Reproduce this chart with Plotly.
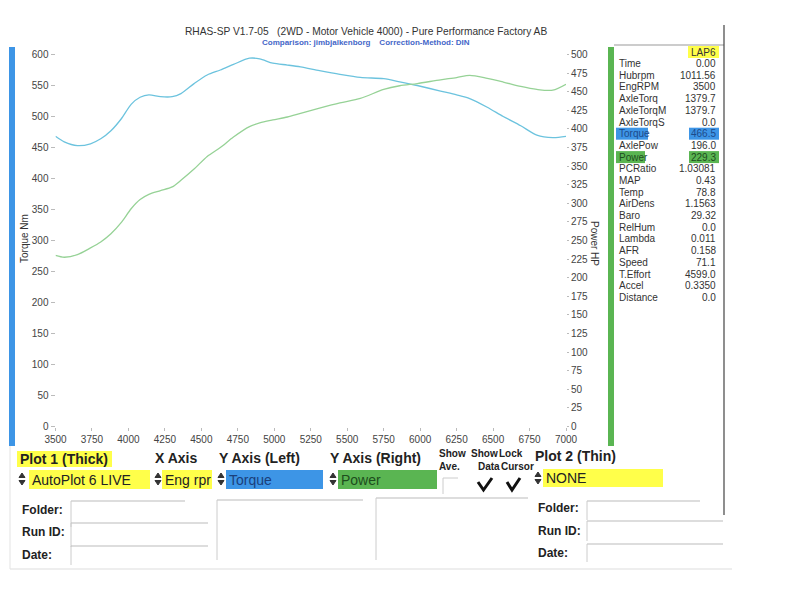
import plotly.graph_objects as go

# ---------------- data ----------------
rpm = [3500, 3560, 3650, 3740, 3810, 3880, 3950, 4020, 4080, 4140,
       4220, 4300, 4360, 4450, 4540, 4630, 4720, 4830, 4900, 4990,
       5090, 5180, 5310, 5450, 5590, 5750, 5860, 5980, 6140, 6250,
       6340, 6460, 6570, 6690, 6800, 6910, 7000]
torque_nm = [468, 459, 453, 456, 464, 477, 496, 520, 531, 535,
             532, 532, 537, 553, 567, 575, 584, 594, 593, 586,
             583, 580, 574, 568, 563, 561, 556, 550, 541, 535,
             529, 515, 500, 485, 470, 466, 468]
power_hp = [230, 227.5, 231, 240, 248, 259, 274, 293, 305, 312,
            317, 322, 331, 346, 363, 375, 389, 403, 408, 412,
            416, 421, 428, 435, 441, 453, 458, 461, 466, 469,
            472, 468, 463, 457, 453, 452, 460]

x_ticks = [3500, 3750, 4000, 4250, 4500, 4750, 5000, 5250, 5500, 5750, 6000, 6250, 6500, 6750, 7000]
left_ticks = list(range(0, 601, 50))
right_ticks = list(range(0, 501, 25))

title_text = "RHAS-SP V1.7-05\u00a0\u00a0\u00a0(2WD - Motor Vehicle 4000) - Pure Performance Factory AB"
subtitle_text = "Comparison: jimbjalkenborg\u00a0\u00a0\u00a0\u00a0Correction-Method: DIN"

panel_header = "LAP6"
panel_labels = ["Time", "Hubrpm", "EngRPM", "AxleTorq", "AxleTorqM", "AxleTorqS", "Torque",
                "AxlePow", "Power", "PCRatio", "MAP", "Temp", "AirDens", "Baro", "RelHum",
                "Lambda", "AFR", "Speed", "T.Effort", "Accel", "Distance"]
panel_values = ["0.00", "1011.56", "3500", "1379.7", "1379.7", "0.0", "466.5",
                "196.0", "229.3", "1.03081", "0.43", "78.8", "1.1563", "29.32", "0.0",
                "0.011", "0.158", "71.1", "4599.0", "0.3350", "0.0"]

# ---------------- helpers ----------------
W, H = 799, 591
FONT = "Liberation Sans, Arial, sans-serif"
BLUE = "#3d95e6"
GREEN = "#5ab552"
YELLOW = "#ffff4a"


def X(px):
    return px / W


def Y(py):
    return 1 - py / H


annotations = []
shapes = []


def txt(x, y, s, size=10, color="#333", xanchor="left", yanchor="middle", **kw):
    annotations.append(dict(x=X(x), y=Y(y), xref="paper", yref="paper", text=s,
                            showarrow=False, xanchor=xanchor, yanchor=yanchor,
                            font=dict(family=FONT, size=size, color=color), **kw))


def rect(x0, y0, x1, y1, fill):
    shapes.append(dict(type="rect", xref="paper", yref="paper", x0=X(x0), x1=X(x1),
                       y0=Y(y1), y1=Y(y0), fillcolor=fill, line=dict(width=0),
                       layer="below"))


def hline(x0, x1, y, color="#bbb", width=1):
    shapes.append(dict(type="line", xref="paper", yref="paper", x0=X(x0), x1=X(x1),
                       y0=Y(y), y1=Y(y), line=dict(color=color, width=width)))


def vline(x, y0, y1, color="#bbb", width=1):
    shapes.append(dict(type="line", xref="paper", yref="paper", x0=X(x), x1=X(x),
                       y0=Y(y0), y1=Y(y1), line=dict(color=color, width=width)))


def path(points, color="#111", width=2.5, fill=None):
    d = "M " + " L ".join(f"{X(px):.5f},{Y(py):.5f}" for px, py in points)
    if fill:
        d += " Z"
    shapes.append(dict(type="path", xref="paper", yref="paper", path=d,
                       line=dict(color=color, width=width),
                       fillcolor=fill if fill else "rgba(0,0,0,0)"))


def spinner(x, yc):
    path([(x, yc - 1.5), (x + 3, yc - 6), (x + 6, yc - 1.5)], color="#333", width=1, fill="#333")
    path([(x, yc + 1.5), (x + 3, yc + 6), (x + 6, yc + 1.5)], color="#333", width=1, fill="#333")


# ---------------- figure ----------------
fig = go.Figure()
fig.add_trace(go.Scatter(x=rpm, y=torque_nm, mode="lines", yaxis="y",
                         line=dict(color="#6cc3de", width=1.3, shape="spline", smoothing=0.8),
                         hoverinfo="skip", showlegend=False))
fig.add_trace(go.Scatter(x=rpm, y=power_hp, mode="lines", yaxis="y2",
                         line=dict(color="#96d296", width=1.3, shape="spline", smoothing=0.8),
                         hoverinfo="skip", showlegend=False))

x_dom = [X(55.5), X(566)]
y_dom = [Y(426.5), Y(54.5)]

# titles
txt(366, 32, title_text, size=10.2, color="#333", xanchor="center")
txt(366, 43, "<b>" + subtitle_text + "</b>", size=8, color="#4466c8", xanchor="center")

# side bars
rect(9, 47, 15, 446, BLUE)
rect(608, 47, 614, 446, GREEN)

# axis titles
txt(25, 239, "Torque Nm", size=10, color="#333", xanchor="center", textangle=-90)
txt(595, 243, "Power HP", size=10, color="#333", xanchor="center", textangle=90)

# data panel
hline(614, 724, 45, color="#999")
vline(724, 25, 515, color="#444", width=1.2)
rect(688, 46, 719, 58, YELLOW)
txt(718, 52, panel_header, size=10, color="#333", xanchor="right")
for i, (lab, val) in enumerate(zip(panel_labels, panel_values)):
    yc = 63.5 + i * 11.7
    lab_color = "#333"
    val_color = "#333"
    if lab == "Torque":
        rect(616, yc - 6, 648, yc + 6, BLUE)
        rect(689, yc - 6, 719, yc + 6, BLUE)
        lab_color = val_color = "#1d4a8a"
    if lab == "Power":
        rect(616, yc - 6, 645, yc + 6, GREEN)
        rect(689, yc - 6, 719, yc + 6, GREEN)
        lab_color = val_color = "#1e4d1e"
    txt(617, yc, lab, size=10, color=lab_color)
    txt(718, yc, val, size=10, color=val_color, xanchor="right")

# control headers
rect(17, 451, 112, 467, YELLOW)
txt(18, 459, "<b>Plot 1 (Thick)</b>", size=14, color="#222")
txt(153, 458, "<b>X Axis</b>", size=14, color="#222")
txt(217, 458, "<b>Y Axis (Left)</b>", size=14, color="#222")
txt(328, 458, "<b>Y Axis (Right)</b>", size=14, color="#222")
txt(533, 456, "<b>Plot 2 (Thin)</b>", size=14, color="#222")
txt(437, 453, "<b>Show</b>", size=10, color="#222")
txt(437, 466, "<b>Ave.</b>", size=10, color="#222")
txt(469, 453, "<b>Show</b>", size=10, color="#222")
txt(476, 466, "<b>Data</b>", size=10, color="#222")
txt(497, 453, "<b>Lock</b>", size=10, color="#222")
txt(499, 466, "<b>Cursor</b>", size=10, color="#222")

# control selectors
spinner(19, 479)
rect(29, 470, 150, 489, YELLOW)
txt(30, 479.5, "AutoPlot 6 LIVE", size=14, color="#222")
spinner(155, 479)
rect(162, 470, 212, 489, YELLOW)
txt(163, 479.5, "Eng rpr", size=14, color="#222")
spinner(218, 479)
rect(226, 470, 323, 489, BLUE)
txt(227, 479.5, "Torque", size=14, color="#1b3f7a")
spinner(330, 479)
rect(338, 470, 437, 489, GREEN)
txt(339, 479.5, "Power", size=14, color="#1d4d1d")
spinner(535, 478)
rect(543, 469, 663, 487, YELLOW)
txt(544, 478, "NONE", size=14, color="#222")

# check boxes
vline(443, 478, 494, color="#ccc")
hline(443, 458, 478, color="#ccc")
path([(478, 482), (483.5, 490), (492, 478)], color="#111", width=3)
path([(507, 482), (512, 490), (520, 478)], color="#111", width=3)

# form fields
for lab, yc in [("Folder:", 510), ("Run ID:", 532), ("Date:", 555)]:
    txt(20, yc, "<b>" + lab + "</b>", size=12, color="#222")
for lab, yc in [("Folder:", 508), ("Run ID:", 531), ("Date:", 553)]:
    txt(536, yc, "<b>" + lab + "</b>", size=12, color="#222")
for (x0, x1, yt, yb) in [(71, 185, 501, 527), (71, 208, 523, 547), (71, 208, 546, 565),
                         (217, 363, 500, 560), (376, 528, 498, 560),
                         (587, 700, 501, 520), (587, 723, 521, 541), (587, 723, 544, 562)]:
    hline(x0, x1, yt, color="#bbb")
    vline(x0, yt, yb, color="#ccc")
hline(10, 732, 569, color="#ddd")
vline(10, 446, 569, color="#e3e3e3")

tick_font = dict(family=FONT, size=10, color="#444")
fig.update_layout(
    width=W, height=H, autosize=False,
    margin=dict(l=0, r=0, t=0, b=0, pad=0),
    paper_bgcolor="white", plot_bgcolor="white",
    showlegend=False,
    xaxis=dict(domain=x_dom, range=[3500, 7000], tickvals=x_ticks, ticks="outside",
               ticklen=3, tickcolor="#bbb", tickfont=tick_font, showgrid=False,
               zeroline=False, showline=False, fixedrange=True, automargin=False),
    yaxis=dict(domain=y_dom, range=[0, 600], tickvals=left_ticks, ticks="outside",
               ticklen=4, tickcolor="#bbb", tickfont=tick_font, showgrid=False,
               zeroline=False, showline=False, fixedrange=True, automargin=False),
    yaxis2=dict(domain=y_dom, range=[0, 500], tickvals=right_ticks, ticks="outside",
                ticklen=2, tickcolor="#bbb", tickfont=tick_font, showgrid=False,
                zeroline=False, showline=False, overlaying="y", side="right",
                anchor="x", fixedrange=True, automargin=False),
    annotations=annotations,
    shapes=shapes,
)

fig.write_html("out.html", config={"displayModeBar": False},
               post_script="document.body.style.margin='0px';")
